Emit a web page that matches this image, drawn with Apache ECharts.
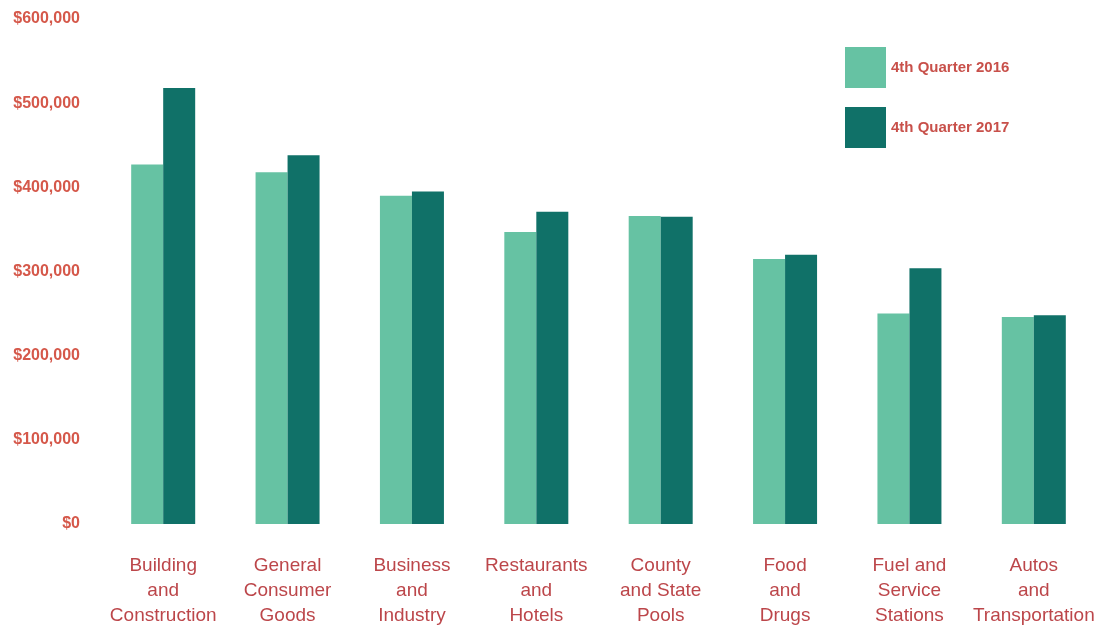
<!DOCTYPE html>
<html>
<head>
<meta charset="utf-8">
<script src="https://cdn.jsdelivr.net/npm/echarts@6/dist/echarts.min.js"></script>
<style>html,body{margin:0;padding:0;background:#fff}#c{width:1109px;height:628px}</style>
</head>
<body>
<div id="c"></div>
<script>
const categories = ["Building\nand\nConstruction","General\nConsumer\nGoods","Business\nand\nIndustry","Restaurants\nand\nHotels","County\nand State\nPools","Food\nand\nDrugs","Fuel and\nService\nStations","Autos\nand\nTransportation"];
const q2016 = [427000, 418000, 390000, 347000, 366000, 315000, 250000, 246000];
const q2017 = [518000, 438000, 395000, 371000, 365000, 320000, 304000, 248000];
const seriesNames = ["4th Quarter 2016", "4th Quarter 2017"];
const yTicks = [0, 100000, 200000, 300000, 400000, 500000, 600000];

const chart = echarts.init(document.getElementById('c'), null, {renderer: 'canvas'});
chart.setOption({
  animation: false,
  backgroundColor: '#ffffff',
  grid: {left: 101, right: 13, top: 19, bottom: 104, containLabel: false},
  legend: {
    orient: 'vertical', left: 840, top: 42,
    itemWidth: 41, itemHeight: 41, itemGap: 19,
    icon: 'rect',
    textStyle: {color: '#c8504a', fontSize: 15, fontWeight: 'bold', fontFamily: 'Liberation Sans'},
    data: seriesNames
  },
  xAxis: {
    type: 'category', data: categories,
    axisLine: {show: false}, axisTick: {show: false},
    axisLabel: {interval: 0, margin: 29, color: '#bc464a', fontSize: 19, lineHeight: 25, fontFamily: 'Liberation Sans', align: 'center'}
  },
  yAxis: {
    type: 'value', min: yTicks[0], max: yTicks[yTicks.length-1], interval: 100000,
    axisLine: {show: false}, axisTick: {show: false}, splitLine: {show: false},
    axisLabel: {margin: 21, color: '#d5584a', fontSize: 16, fontWeight: 'bold', fontFamily: 'Liberation Sans',
      formatter: v => '$' + v.toLocaleString('en-US')}
  },
  series: [
    {name: seriesNames[0], type: 'bar', data: q2016, barWidth: 32, barGap: '0%', itemStyle: {color: '#66c2a3'}},
    {name: seriesNames[1], type: 'bar', data: q2017, barWidth: 32, barGap: '0%', itemStyle: {color: '#107168'}}
  ]
});
</script>
</body>
</html>
